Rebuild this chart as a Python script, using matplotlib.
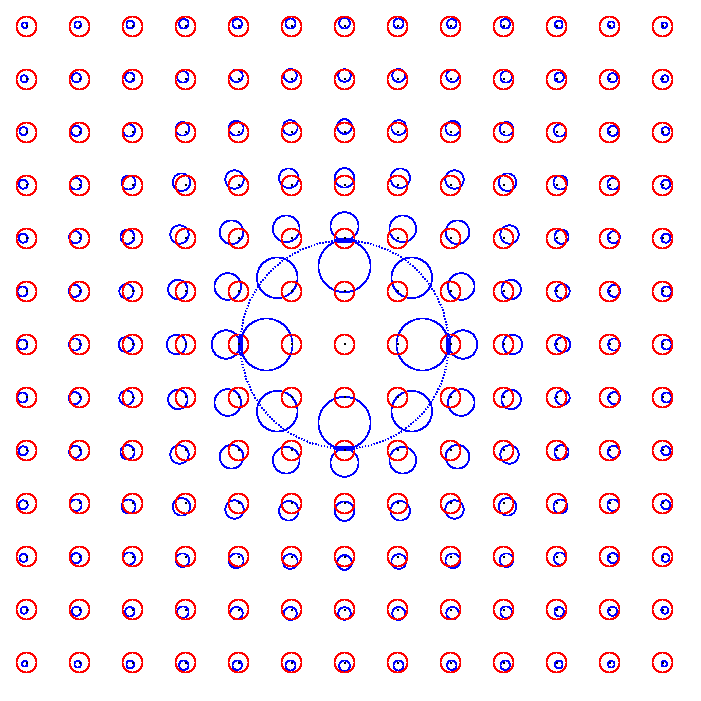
import numpy as np
import matplotlib
matplotlib.use("Agg")
import matplotlib.pyplot as plt
from matplotlib.patches import Circle, Ellipse

# grid of source positions (pixel offsets from the lens centre)
spacing = 53
grid_idx = np.arange(-6, 7)
src_radius = 10.0
ring_radius = 104.0

# blue image circles, read from the upper-right quadrant: rows j = 0..6 (up), cols i = 0..6 (right)
# values are outward shift in x, outward shift in y, and radius (pixels)
img_dx = [
    [0.0, 25.0, 12.5, 9.0, 6.3, 4.7, 4.0],
    [0.0, 14.3, 10.7, 7.7, 6.0, 4.7, 4.0],
    [0.0, 5.3, 7.0, 6.0, 5.0, 4.3, 3.3],
    [0.3, 2.7, 4.0, 4.0, 4.0, 3.7, 3.3],
    [0.0, 1.3, 2.3, 3.0, 3.3, 3.3, 3.0],
    [0.3, 1.3, 2.0, 2.7, 2.7, 3.0, 2.3],
    [0.7, 1.0, 1.3, 1.7, 2.3, 1.7, 1.7],
]
img_dy = [
    [0.0, 0.0, 0.0, 0.0, 0.0, 0.0, 0.0],
    [25.3, 13.7, 5.0, 2.0, 0.3, 0.7, 0.0],
    [12.3, 9.7, 6.3, 4.0, 1.7, 1.3, 0.3],
    [7.7, 7.3, 6.0, 3.3, 3.0, 1.7, 1.3],
    [6.0, 5.0, 4.3, 3.7, 2.0, 1.7, 1.3],
    [4.0, 4.0, 3.7, 2.7, 2.3, 1.7, 0.7],
    [3.3, 3.0, 2.7, 2.7, 2.0, 1.7, 1.3],
]
img_r = [
    [0.0, 26.0, 14.2, 9.7, 7.5, 6.0, 5.0],
    [26.0, 20.3, 13.3, 9.7, 7.2, 6.0, 5.0],
    [14.0, 13.3, 11.8, 9.2, 7.0, 6.0, 4.5],
    [9.7, 9.7, 9.2, 8.7, 7.0, 5.8, 4.5],
    [7.3, 7.3, 7.3, 6.8, 6.0, 5.0, 4.0],
    [6.2, 6.5, 6.2, 5.8, 4.7, 4.5, 3.5],
    [5.3, 5.0, 4.7, 4.7, 3.8, 3.3, 2.8],
]

# thin tangential arcs where sources at 2 grid steps on the axes meet the ring
arc_len = 19.0
arc_thick = 3.5

fig = plt.figure(figsize=(7.01, 7.01), dpi=100)
ax = fig.add_axes([0, 0, 1, 1])
ax.set_xlim(-344.5, 356.5)
ax.set_ylim(-356.5, 344.5)
ax.set_aspect("equal")
ax.axis("off")

for gj in grid_idx:
    for gi in grid_idx:
        x = gi * spacing
        y = gj * spacing
        r = img_r[abs(gj)][abs(gi)]
        if r > 0:
            bx = x + np.sign(gi) * img_dx[abs(gj)][abs(gi)]
            by = y + np.sign(gj) * img_dy[abs(gj)][abs(gi)]
            ax.add_patch(Circle((bx, by), r, fill=False, ec="blue", lw=0.5,
                                antialiased=False))
        ax.add_patch(Circle((x, y), src_radius, fill=False, ec="red", lw=0.65,
                            antialiased=False))

# arcs on the ring
for ang in [0, 90, 180, 270]:
    t = np.deg2rad(ang)
    cx, cy = ring_radius * np.cos(t), ring_radius * np.sin(t)
    w, h = (arc_thick, arc_len) if ang in (0, 180) else (arc_len, arc_thick)
    ax.add_patch(Ellipse((cx, cy), w, h, fill=False, ec="blue", lw=0.4,
                         antialiased=False))

# Einstein ring
ax.add_patch(Circle((0, 0), ring_radius, fill=False, ec="blue", lw=0.5,
                    linestyle=(0, (1, 3)), antialiased=False))

# source centres
gx, gy = np.meshgrid(grid_idx * spacing, grid_idx * spacing)
ax.scatter(gx.ravel(), gy.ravel(), s=3, c="black", marker="s", lw=0,
           zorder=5)

fig.savefig("out.png", dpi=100, facecolor="white")
